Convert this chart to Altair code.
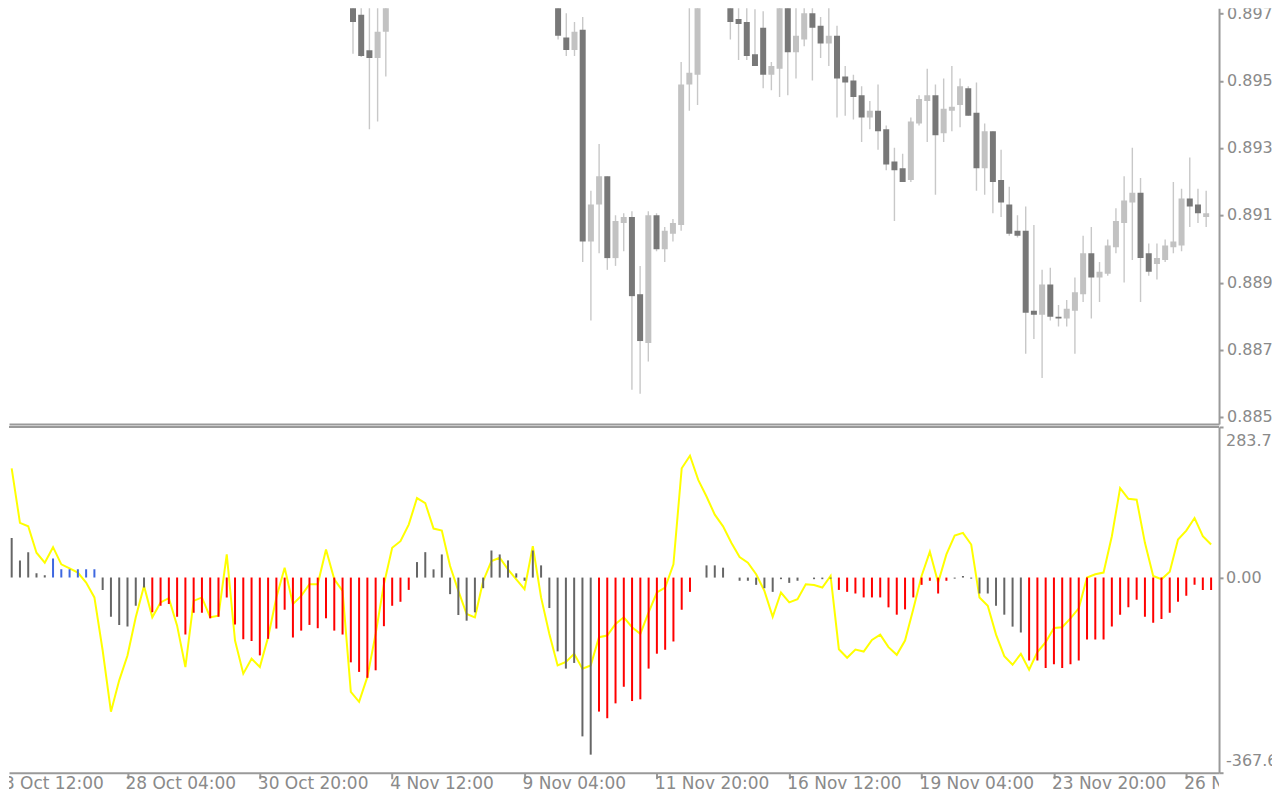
import altair as alt
import pandas as pd

# ---------------- price candles (only those reaching the visible window) ----------------
candle_bar = [41, 42, 43, 44, 45, 66, 67, 68, 69, 70, 71, 72, 73, 74, 75, 76, 77, 78, 79, 80,
              81, 82, 83, 87, 88, 89, 90, 91, 92, 93, 94, 95, 96, 97, 98, 99, 100, 101, 102, 103,
              104, 105, 106, 107, 108, 109, 110, 111, 112, 113, 114, 115, 116, 117, 118, 119, 120,
              121, 122, 123, 124, 125, 126, 127, 128, 129, 130, 131, 132, 133, 134, 135, 136, 137,
              138, 139, 140, 141, 142, 143, 144, 145]
candle_open = [0.89802, 0.89758, 0.89649, 0.89625, 0.89706, 0.89790, 0.89688, 0.89650, 0.89712, 0.89061,
               0.89175, 0.89262, 0.89010, 0.89118, 0.89136, 0.88899, 0.88749, 0.89142, 0.89037, 0.89085,
               0.89112, 0.89544, 0.89574, 0.89796, 0.89745, 0.89736, 0.89637, 0.89718, 0.89574, 0.89592,
               0.89790, 0.89643, 0.89682, 0.89763, 0.89724, 0.89670, 0.89694, 0.89568, 0.89556, 0.89511,
               0.89442, 0.89463, 0.89406, 0.89307, 0.89286, 0.89250, 0.89424, 0.89493, 0.89511, 0.89394,
               0.89463, 0.89481, 0.89532, 0.89457, 0.89286, 0.89400, 0.89250, 0.89175, 0.89094, 0.89094,
               0.88848, 0.88836, 0.88929, 0.88830, 0.88824, 0.88848, 0.88899, 0.89025, 0.88950, 0.88962,
               0.89043, 0.89118, 0.89181, 0.89211, 0.89025, 0.88992, 0.89004, 0.89043, 0.89049, 0.89193,
               0.89175, 0.89136]
candle_high = [0.89838, 0.89793, 0.89787, 0.89784, 0.89814, 0.89808, 0.89763, 0.89736, 0.89751, 0.89217,
               0.89361, 0.89262, 0.89142, 0.89148, 0.89154, 0.88986, 0.89154, 0.89148, 0.89106, 0.89130,
               0.89613, 0.89793, 0.89808, 0.89814, 0.89790, 0.89787, 0.89775, 0.89769, 0.89613, 0.89808,
               0.89805, 0.89787, 0.89784, 0.89784, 0.89751, 0.89781, 0.89724, 0.89601, 0.89574, 0.89538,
               0.89493, 0.89544, 0.89418, 0.89349, 0.89331, 0.89442, 0.89511, 0.89592, 0.89544, 0.89562,
               0.89601, 0.89562, 0.89538, 0.89550, 0.89424, 0.89400, 0.89343, 0.89229, 0.89142, 0.89169,
               0.89112, 0.88974, 0.88980, 0.88866, 0.88881, 0.88950, 0.89079, 0.89106, 0.88998, 0.89067,
               0.89163, 0.89262, 0.89349, 0.89256, 0.89055, 0.89055, 0.89067, 0.89244, 0.89223, 0.89319,
               0.89223, 0.89217]
candle_low = [0.89638, 0.89628, 0.89406, 0.89430, 0.89568, 0.89682, 0.89631, 0.89631, 0.88998, 0.88818,
              0.89025, 0.88974, 0.88986, 0.89031, 0.88605, 0.88593, 0.88692, 0.89031, 0.88998, 0.89061,
              0.89094, 0.89463, 0.89481, 0.89682, 0.89619, 0.89619, 0.89601, 0.89532, 0.89526, 0.89505,
              0.89511, 0.89562, 0.89661, 0.89556, 0.89625, 0.89601, 0.89442, 0.89448, 0.89436, 0.89367,
              0.89406, 0.89343, 0.89280, 0.89124, 0.89244, 0.89244, 0.89418, 0.89367, 0.89205, 0.89367,
              0.89400, 0.89412, 0.89448, 0.89217, 0.89205, 0.89148, 0.89136, 0.89079, 0.89073, 0.88716,
              0.88761, 0.88641, 0.88818, 0.88800, 0.88800, 0.88716, 0.88875, 0.88824, 0.88875, 0.88956,
              0.89025, 0.88935, 0.89004, 0.88875, 0.88956, 0.88944, 0.88998, 0.89025, 0.89031, 0.89106,
              0.89118, 0.89106]
candle_close = [0.89736, 0.89631, 0.89625, 0.89706, 0.89796, 0.89694, 0.89650, 0.89706, 0.89061, 0.89175,
                0.89262, 0.89010, 0.89124, 0.89136, 0.88893, 0.88755, 0.89142, 0.89037, 0.89094, 0.89118,
                0.89544, 0.89580, 0.89796, 0.89736, 0.89730, 0.89631, 0.89601, 0.89574, 0.89601, 0.89793,
                0.89643, 0.89694, 0.89763, 0.89718, 0.89670, 0.89694, 0.89562, 0.89550, 0.89505, 0.89442,
                0.89463, 0.89400, 0.89298, 0.89280, 0.89244, 0.89430, 0.89499, 0.89511, 0.89388, 0.89469,
                0.89475, 0.89538, 0.89448, 0.89286, 0.89400, 0.89244, 0.89181, 0.89085, 0.89079, 0.88842,
                0.88836, 0.88929, 0.88830, 0.88824, 0.88854, 0.88905, 0.89025, 0.88950, 0.88968, 0.89049,
                0.89124, 0.89187, 0.89211, 0.89010, 0.88968, 0.89010, 0.89049, 0.89061, 0.89193, 0.89169,
                0.89148, 0.89148]

# ---------------- oscillator window ----------------
hist_val = [74.8, 32.4, 47.9, 8.0, 4.3, 36.0, 15.5, 15.5, 15.5, 15.5,
            15.5, -23.2, -73.7, -89.2, -92.4, -53.1, -18.7, -65.5, -53.1, -50.0,
            -73.7, -107.3, -66.2, -66.2, -76.7, -73.7, -37.4, -88.6, -116.0, -119.7,
            -146.6, -115.4, -96.1, -60.6, -112.9, -99.9, -89.2, -95.4, -76.7, -99.9,
            -107.3, -159.7, -177.7, -188.9, -174.7, -91.6, -53.1, -45.6, -23.2, 29.2,
            47.9, 15.5, 43.6, -31.2, -70.5, -81.2, -65.5, -20.0, 51.0, 43.6,
            32.4, 8.0, -6.0, 51.0, 23.0, -57.4, -139.0, -171.5, -160.8, -299.2,
            -333.6, -252.5, -265.0, -237.0, -205.7, -232.6, -229.4, -171.5, -143.4, -136.0,
            -120.4, -60.6, -26.9, 0.0, 23.0, 23.0, 18.7, 0.0, -6.0, -6.0,
            -13.7, -20.0, -26.9, -3.0, -10.0, -6.0, 0.0, -3.0, -3.0, -2.0,
            -23.2, -26.9, -30.0, -37.4, -37.4, -37.4, -56.1, -69.9, -59.9, -37.4,
            -13.7, -6.0, -30.0, -6.0, -2.0, 3.0, -2.0, -30.0, -30.0, -53.1,
            -69.9, -92.4, -103.6, -156.0, -156.0, -170.2, -163.4, -170.2, -163.4, -156.0,
            -116.8, -116.8, -116.8, -92.4, -69.9, -56.1, -41.9, -73.7, -84.9, -78.0,
            -66.2, -45.6, -34.4, -13.7, -23.2, -23.2]
hist_class = (["gray"] * 5 + ["blue"] * 6 + ["gray"] * 6 + ["red"] * 32 + ["gray"] * 22 +
              ["red"] * 12 + ["gray"] * 17 + ["red"] * 14 + ["gray"] * 9 + ["red"] * 23)
signal_val = [205.9, 103.0, 96.6, 46.8, 28.1, 57.3, 24.9, 17.4, 9.4, -9.4,
              -37.4, -137.4, -252.7, -193.6, -146.8, -74.9, -15.7, -74.9, -46.8, -38.8,
              -90.6, -168.5, -43.8, -37.4, -74.9, -71.9, 43.6, -118.7, -181.0, -152.9,
              -168.5, -112.3, -37.4, 18.7, -50.0, -34.4, -12.5, -12.5, 53.0, -3.2,
              -25.1, -215.3, -234.0, -187.2, -106.1, -12.5, 56.2, 68.5, 99.8, 149.8,
              140.4, 92.3, 88.5, 21.7, -25.1, -68.7, -74.9, -6.4, 31.1, 37.4,
              15.5, -3.2, -21.9, 59.2, -37.4, -106.1, -165.5, -159.1, -143.6, -171.7,
              -165.5, -112.3, -109.3, -87.4, -74.9, -93.6, -106.1, -65.5, -28.1, -18.7,
              24.9, 205.9, 229.5, 184.0, 152.8, 118.5, 96.6, 65.5, 38.6, 28.1,
              6.2, -25.1, -73.8, -28.1, -46.8, -40.6, -12.5, -13.9, -18.7, 3.0,
              -135.0, -151.1, -135.5, -139.3, -117.4, -107.5, -131.0, -145.5, -118.7, -59.3,
              3.0, 48.7, -9.4, 43.6, 79.2, 84.2, 62.3, -37.4, -53.2, -107.5,
              -147.9, -164.2, -143.6, -173.5, -140.4, -121.7, -94.9, -93.6, -76.8, -58.0,
              0.0, 6.2, 9.4, 77.9, 168.5, 148.4, 146.6, 65.5, 3.0, -3.2,
              11.2, 71.7, 88.5, 112.3, 77.9, 62.3]

# ---------------- axes ----------------
time_tick_bar = [-2, 14, 30, 46, 62, 78, 94, 110, 126, 142]
time_tick_text = ["23 Oct 12:00", "28 Oct 04:00", "30 Oct 20:00", "4 Nov 12:00", "9 Nov 04:00",
                  "11 Nov 20:00", "16 Nov 12:00", "19 Nov 04:00", "23 Nov 20:00", "26 Nov 12:00"]
price_ticks = [0.88520, 0.88727, 0.88934, 0.89141, 0.89348, 0.89555, 0.89762]
osc_ticks = [-367.63, 0.0, 283.75]
osc_tick_text = ["-367.63", "0.00", "283.75"]

AX = "#9a9a9a"
TXT = "#8a8a8a"
FONT = "DejaVu Sans"
FS = 17           # time labels
FS_R = 16         # right-hand scale labels
W = 1211          # plot width
LW = 53           # right label strip (its edge cuts the long labels, as the terminal window does)
H_UP = 416
H_LO = 346
H_TL = 16

COL = {"up": "#c2c2c2", "down": "#787878", "gray": "#666666", "blue": "#3f68e0", "red": "#ff0000"}

xscale = alt.Scale(domain=[-0.324, 145.96], nice=False, zero=False)
pscale = alt.Scale(domain=[0.88500, 0.89778], nice=False, zero=False)
oscale = alt.Scale(domain=[-367.63, 283.75], nice=False, zero=False)

# ---------- upper (price) panel ----------
cdf = pd.DataFrame({"bar": candle_bar, "open": candle_open, "high": candle_high,
                    "low": candle_low, "close": candle_close})
cdf["col"] = [COL["up"] if c >= o else COL["down"] for o, c in zip(cdf["open"], cdf["close"])]

x_up = alt.X("bar:Q", scale=xscale,
             axis=alt.Axis(orient="bottom", labels=False, ticks=False, grid=False, title=None,
                           domainColor=AX, domainWidth=2))
y_price = alt.Y("low:Q", scale=pscale,
                axis=alt.Axis(orient="right", values=price_ticks, labels=False, grid=False, title=None,
                              domainColor=AX, domainWidth=2, tickColor=AX, tickWidth=2, tickSize=4))

wicks = alt.Chart(cdf).mark_rule(color="#c8c8c8", strokeWidth=1.4, clip=True).encode(
    x=x_up, y=y_price, y2="high:Q")
bodies = alt.Chart(cdf).mark_bar(size=6, clip=True).encode(
    x="bar:Q", y="open:Q", y2="close:Q", color=alt.Color("col:N", scale=None))
upper = alt.layer(wicks, bodies).properties(width=W, height=H_UP)

pdf = pd.DataFrame({"v": price_ticks, "t": ["%.5f" % v for v in price_ticks]})
upper_lbl = alt.Chart(pdf).mark_text(align="left", baseline="middle", clip=True, font=FONT,
                                     fontSize=FS_R, color=TXT).encode(
    x=alt.value(8), y=alt.Y("v:Q", scale=pscale, axis=None), text="t:N"
).properties(width=LW, height=H_UP)

# ---------- lower (oscillator) panel ----------
ldf = pd.DataFrame({"bar": list(range(len(hist_val))), "hist": hist_val, "sig": signal_val,
                    "col": [COL[c] for c in hist_class]})
ldf["zero"] = 0.0

x_lo = alt.X("bar:Q", scale=xscale,
             axis=alt.Axis(orient="bottom", values=time_tick_bar[1:], labels=False, ticks=True,
                           tickSize=6, tickWidth=2, tickColor=AX, domainColor=AX, domainWidth=2,
                           grid=False, title=None))
y_osc = alt.Y("sig:Q", scale=oscale,
              axis=alt.Axis(orient="right", values=osc_ticks, labels=False, grid=False, title=None,
                            domainColor=AX, domainWidth=2, tickColor=AX, tickWidth=2, tickSize=4))

sig_line = alt.Chart(ldf).mark_line(color="#ffff00", strokeWidth=2, clip=True).encode(x=x_lo, y=y_osc)
hist = alt.Chart(ldf).mark_rule(strokeWidth=2, clip=True).encode(
    x="bar:Q", y="hist:Q", y2="zero:Q", color=alt.Color("col:N", scale=None))
top_border = alt.Chart(pd.DataFrame({"v": [0]})).mark_rule(color=AX, strokeWidth=2).encode(
    y=alt.value(0))
lower = alt.layer(sig_line, hist, top_border).properties(width=W, height=H_LO)

odf = pd.DataFrame({"v": osc_ticks, "t": osc_tick_text})
o_base = alt.Chart(odf).encode(x=alt.value(7), y=alt.Y("v:Q", scale=oscale, axis=None), text="t:N")
o_top = o_base.transform_filter(alt.datum.v > 0).mark_text(
    align="left", baseline="top", dy=6, clip=True, font=FONT, fontSize=FS_R, color=TXT)
o_mid = o_base.transform_filter(alt.datum.v == 0).mark_text(
    align="left", baseline="middle", clip=True, font=FONT, fontSize=FS_R, color=TXT)
o_bot = o_base.transform_filter(alt.datum.v < 0).mark_text(
    align="left", baseline="bottom", dy=-4, clip=True, font=FONT, fontSize=FS_R, color=TXT)
lower_lbl = alt.layer(o_top, o_mid, o_bot).properties(width=LW, height=H_LO)

# ---------- time labels ----------
tdf = pd.DataFrame({"bar": time_tick_bar, "txt": time_tick_text})
time_lbl = alt.Chart(tdf).mark_text(align="left", baseline="top", clip=True, dx=-2,
                                    font=FONT, fontSize=FS, color=TXT).encode(
    x=alt.X("bar:Q", scale=xscale, axis=None), y=alt.value(0), text="txt:N"
).properties(width=W, height=H_TL)

chart = alt.concat(upper, upper_lbl, lower, lower_lbl, time_lbl, columns=2,
                   spacing={"row": 3, "column": 0}, bounds="flush").properties(
    padding={"left": 0, "top": 0, "right": 0, "bottom": 0}
).configure(background="white").configure_view(strokeWidth=0, strokeOpacity=0)

chart.save("out.html", embed_options={"renderer": "svg", "actions": False})
